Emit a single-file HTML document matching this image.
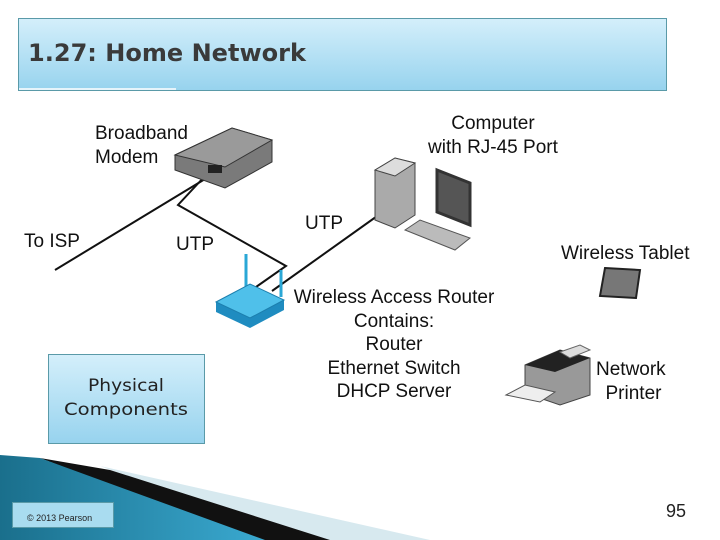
<!DOCTYPE html>
<html><head><meta charset="utf-8"><style>
body{margin:0;width:720px;height:540px;background:#fff;position:relative;overflow:hidden;font-family:"Liberation Sans",sans-serif}
.t{position:absolute;font-size:19px;color:#111;line-height:23.5px;text-align:center;white-space:nowrap}
</style></head><body>
<svg width="720" height="540" style="position:absolute;left:0;top:0">
<defs>
<linearGradient id="hg" x1="0" y1="0" x2="0" y2="1"><stop offset="0" stop-color="#d4effb"/><stop offset="1" stop-color="#97d3ee"/></linearGradient>
<linearGradient id="tg" x1="0" y1="0" x2="1" y2="0"><stop offset="0" stop-color="#1a6f8c"/><stop offset="1" stop-color="#3aa9d0"/></linearGradient>
</defs>
<rect x="18.5" y="18.5" width="648" height="72" fill="url(#hg)" stroke="#5a9aa8"/>
<line x1="19" y1="89" x2="176" y2="89" stroke="#fff" stroke-width="1.5"/>
<text x="28" y="61" font-family="DejaVu Sans" font-weight="bold" font-size="24" fill="#3a3a3a" textLength="278" lengthAdjust="spacingAndGlyphs">1.27: Home Network</text>
<polygon points="100,466 430,540 300,540" fill="#d7e9ef"/>
<polygon points="40,458 110,470 330,540 255,540" fill="#111"/>
<polygon points="0,455 40,458 265,540 0,540" fill="url(#tg)"/>
<rect x="12.5" y="502.5" width="101" height="25" fill="#a9dcf0" stroke="#5a9aa8"/>
<text x="27" y="521" font-size="9" fill="#222">© 2013 Pearson</text>
<text x="666" y="517" font-size="18" fill="#222">95</text>
<rect x="48.5" y="354.5" width="156" height="89" fill="url(#hg)" stroke="#5a9aa8"/>
<text x="126" y="391" font-family="DejaVu Sans" font-size="17" fill="#222" text-anchor="middle" textLength="76" lengthAdjust="spacingAndGlyphs">Physical</text>
<text x="126" y="415" font-family="DejaVu Sans" font-size="17" fill="#222" text-anchor="middle" textLength="124" lengthAdjust="spacingAndGlyphs">Components</text>
<g stroke="#111" stroke-width="2" fill="none">
<line x1="55" y1="270" x2="210" y2="176"/>
<polyline points="205,176 178,205 286,266 256,287"/>
<line x1="272" y1="291" x2="380" y2="214"/>
</g>
<polygon points="175,155 232,128 272,140 272,162 225,188 175,170" fill="#7a7a7a" stroke="#333"/>
<polygon points="175,155 232,128 272,140 225,167" fill="#9a9a9a" stroke="#333"/>
<rect x="208" y="165" width="14" height="8" fill="#222"/>
<line x1="246" y1="254" x2="246" y2="293" stroke="#2aa7d6" stroke-width="3"/>
<line x1="281" y1="270" x2="281" y2="297" stroke="#2aa7d6" stroke-width="3"/>
<polygon points="216,302 250,284 284,300 284,310 250,328 216,312" fill="#1f8cc0"/>
<polygon points="216,302 250,284 284,300 250,318" fill="#4fc0ea" stroke="#1c7fae"/>
<polygon points="375,170 395,158 415,163 415,215 395,228 375,220" fill="#aaa" stroke="#444"/>
<polygon points="375,170 395,158 415,163 395,176" fill="#ddd" stroke="#444"/>
<polygon points="437,170 470,183 470,225 437,212" fill="#555" stroke="#333" stroke-width="3"/>
<polygon points="405,230 420,220 470,238 455,250" fill="#bbb" stroke="#555"/>
<polygon points="605,268 640,270 636,298 600,296" fill="#777" stroke="#222" stroke-width="2"/>
<polygon points="525,365 560,350 590,358 590,395 560,405 525,393" fill="#999" stroke="#444"/>
<polygon points="525,365 560,350 590,358 555,372" fill="#222"/>
<polygon points="560,352 580,345 590,350 570,358" fill="#ddd" stroke="#666"/>
<polygon points="506,395 525,385 555,392 540,402" fill="#eee" stroke="#555"/>
</svg>
<div class="t" style="left:95px;top:122px;text-align:left">Broadband<br>Modem</div>
<div class="t" style="left:428px;top:112px">Computer<br>with RJ-45 Port</div>
<div class="t" style="left:24px;top:230px">To ISP</div>
<div class="t" style="left:176px;top:233px">UTP</div>
<div class="t" style="left:305px;top:212px">UTP</div>
<div class="t" style="left:561px;top:242px">Wireless Tablet</div>
<div class="t" style="left:286px;top:286px;width:216px">Wireless Access Router<br>Contains:<br>Router<br>Ethernet Switch<br>DHCP Server</div>
<div class="t" style="left:596px;top:358px">Network<br>&nbsp;Printer</div>
</body></html>
